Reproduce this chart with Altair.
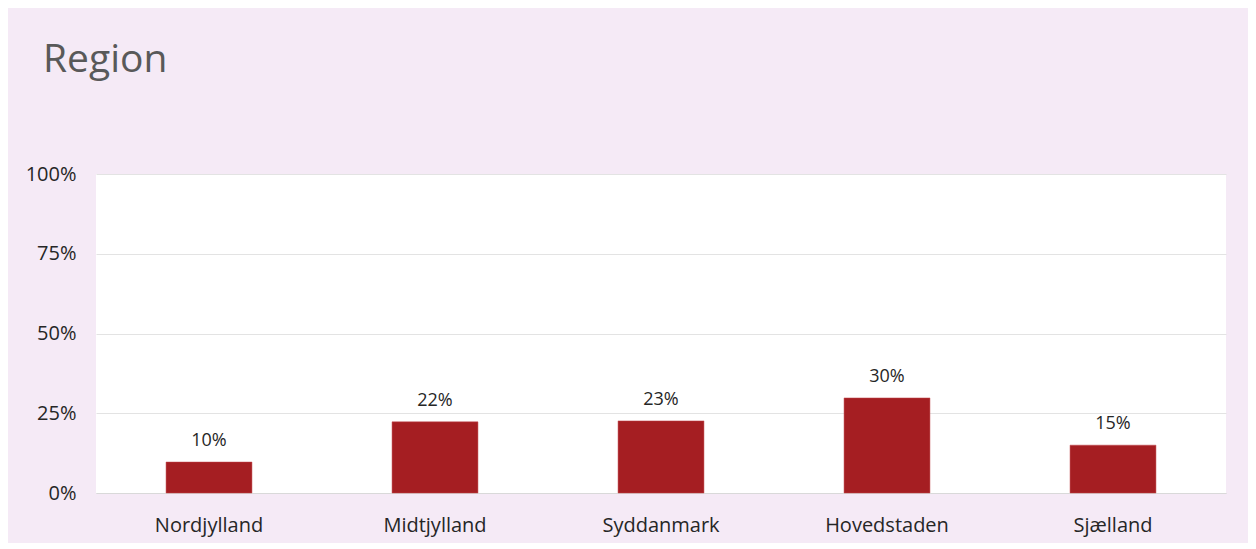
import altair as alt
import pandas as pd

regions = ["Nordjylland", "Midtjylland", "Syddanmark", "Hovedstaden", "Sjælland"]
shares = [0.097, 0.223, 0.226, 0.298, 0.150]
labels = ["10%", "22%", "23%", "30%", "15%"]
title_text = "Region"

df = pd.DataFrame({"region": regions, "share": shares, "label": labels})

FONT = "Open Sans"
BG = "#F5EAF6"

x_enc = alt.X("region:N", sort=regions, title=None,
              scale=alt.Scale(paddingInner=0.62, paddingOuter=0.31),
              axis=alt.Axis(labelAngle=0, labelFontSize=20, labelColor="#262626",
                            labelFont=FONT, ticks=False, domainColor="#D9D9D9",
                            labelPadding=22))
y_enc = alt.Y("share:Q", title=None,
              scale=alt.Scale(domain=[0, 1]),
              axis=alt.Axis(values=[0, 0.25, 0.5, 0.75, 1], format=".0%",
                            labelFontSize=20, labelColor="#262626", labelFont=FONT,
                            ticks=False, domain=False, gridColor="#E3E3E3",
                            labelPadding=20))

bars = alt.Chart(df).mark_bar(color="#A51E22", stroke="#C0454A", strokeWidth=0.5).encode(
    x=x_enc, y=y_enc)

text = alt.Chart(df).mark_text(dy=-12, fontSize=18, font=FONT, color="#262626",
                               baseline="bottom").encode(
    x=alt.X("region:N", sort=regions), y="share:Q", text="label:N")

title = alt.Chart(pd.DataFrame({"t": [title_text]})).mark_text(
    fontSize=39, font=FONT, color="#595959", align="left", baseline="middle").encode(
    x=alt.value(-53), y=alt.value(-114), text="t:N")

chart = alt.layer(bars, text, title).properties(
    width=1130, height=319,
    autosize=alt.AutoSizeParams(type="none"),
    padding={"left": 88, "top": 166, "right": 22, "bottom": 50},
    background=BG,
).configure_view(fill="white", stroke=None)

chart.save("out.html", embed_options={"renderer": "svg", "actions": False})
